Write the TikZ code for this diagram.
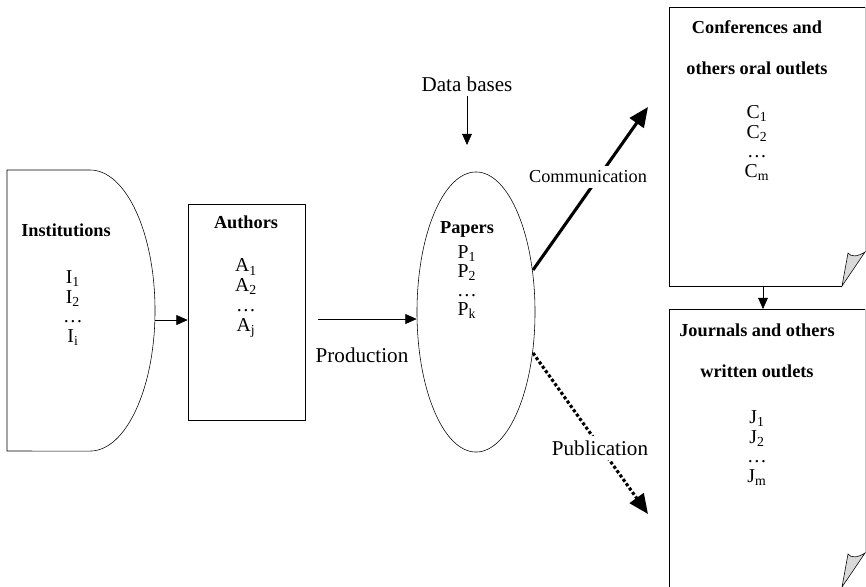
\documentclass[tikz,border=0pt]{standalone}
\usepackage{fontspec}
\setmainfont{Liberation Serif}
\usetikzlibrary{shapes.geometric}
\usetikzlibrary{arrows.meta}

\tikzset{
  box/.style={draw,rectangle,inner sep=0pt},
  title/.style={font=\fontsize{13}{15}\selectfont\bfseries,align=center},
  twoline/.style={font=\fontsize{13}{29.5}\selectfont\bfseries,align=center},
  items/.style={font=\fontsize{14}{14}\selectfont,align=center},
  lbl/.style={font=\fontsize{15}{18}\selectfont},
  flow/.style={-{Triangle[length=8pt,width=7pt]}},
  bigflow/.style={line width=2.2pt,-{Triangle[length=14pt,width=12pt]}},
}

\begin{document}
\begin{tikzpicture}[x=0.025cm,y=-0.025cm]
        \useasboundingbox (0,0) rectangle (866,586);
        % institutions
        \draw (7,170) -- (90,170) arc[start angle=90,end angle=-90,x radius=1.625cm,y radius=3.5125cm]
          -- (7,451) -- cycle;
        \coordinate (inst) at (155,320);
        \node[title] (instT) at (66,230) {Institutions};
        \node[items] (instL) at (73,308) {I\textsubscript{1}\\I\textsubscript{2}\\…\\I\textsubscript{i}};
        % authors
        \node[box,minimum width=2.925cm,minimum height=5.4cm] (auth) at (246.5,312) {};
        \node[title] (authT) at (246,222) {Authors};
        \node[items] (authL) at (246,298) {A\textsubscript{1}\\A\textsubscript{2}\\…\\A\textsubscript{j}};
        \draw[flow] (inst) -- (inst -| auth.west);
        % papers
        \node[draw,ellipse,inner sep=0pt,minimum width=2.95cm,minimum height=7cm] (papers) at (476,312) {};
        \node[title] (papT) at (467,229) {Papers};
        \node[items,font=\fontsize{14}{13.6}\selectfont] (papL) at (467,282) {P\textsubscript{1}\\P\textsubscript{2}\\…\\P\textsubscript{k}};
        \coordinate (prod) at (318,319);
        \draw[flow] (prod) -- (prod -| papers.west);
        \node[lbl] (prodL) at (362,355) {Production};
        \node[lbl] (db) at (467,84) {Data bases};
        \coordinate (dbEnd) at (467,145);
        \draw[flow] (db.south) -- (dbEnd);
        % outlets
        \foreach \t/\b in {7/286, 309/587} {
          \draw (865,\t) -- (669,\t) -- (669,\b) -- (842,\b);
          \draw[gray!45] (865,\t) -- (865,\b-34);
          \draw[fill=gray!30] (842,\b) -- (848,\b-33) .. controls (851,\b-29) and (857,\b-29) .. (865,\b-34) -- cycle;
        }
        \node[twoline] (confT) at (757,47.5) {Conferences and\\others oral outlets};
        \node[items] (confL) at (757,143) {C\textsubscript{1}\\C\textsubscript{2}\\…\\C\textsubscript{m}};
        \node[twoline] (jourT) at (757,351) {Journals and others\\written outlets};
        \node[items] (jourL) at (757,448) {J\textsubscript{1}\\J\textsubscript{2}\\…\\J\textsubscript{m}};
        \coordinate (confS) at (763,286);
        \coordinate (jourN) at (763,309);
        \draw[flow] (confS) -- (jourN);
        % communication and publication
        \coordinate (commA) at (533,270);
        \coordinate (commB) at (648,107);
        \draw[bigflow] (commA) -- (commB);
        \node[lbl,font=\fontsize{13}{15}\selectfont,fill=white] (commL) at (588,177) {Communication};
        \coordinate (pubA) at (533,353);
        \coordinate (pubB) at (648,514);
        \draw[bigflow,dash pattern=on 2.2pt off 1.6pt] (pubA) -- (pubB);
        \node[lbl,fill=white] (pubL) at (600,448) {Publication};
\end{tikzpicture}
\end{document}
